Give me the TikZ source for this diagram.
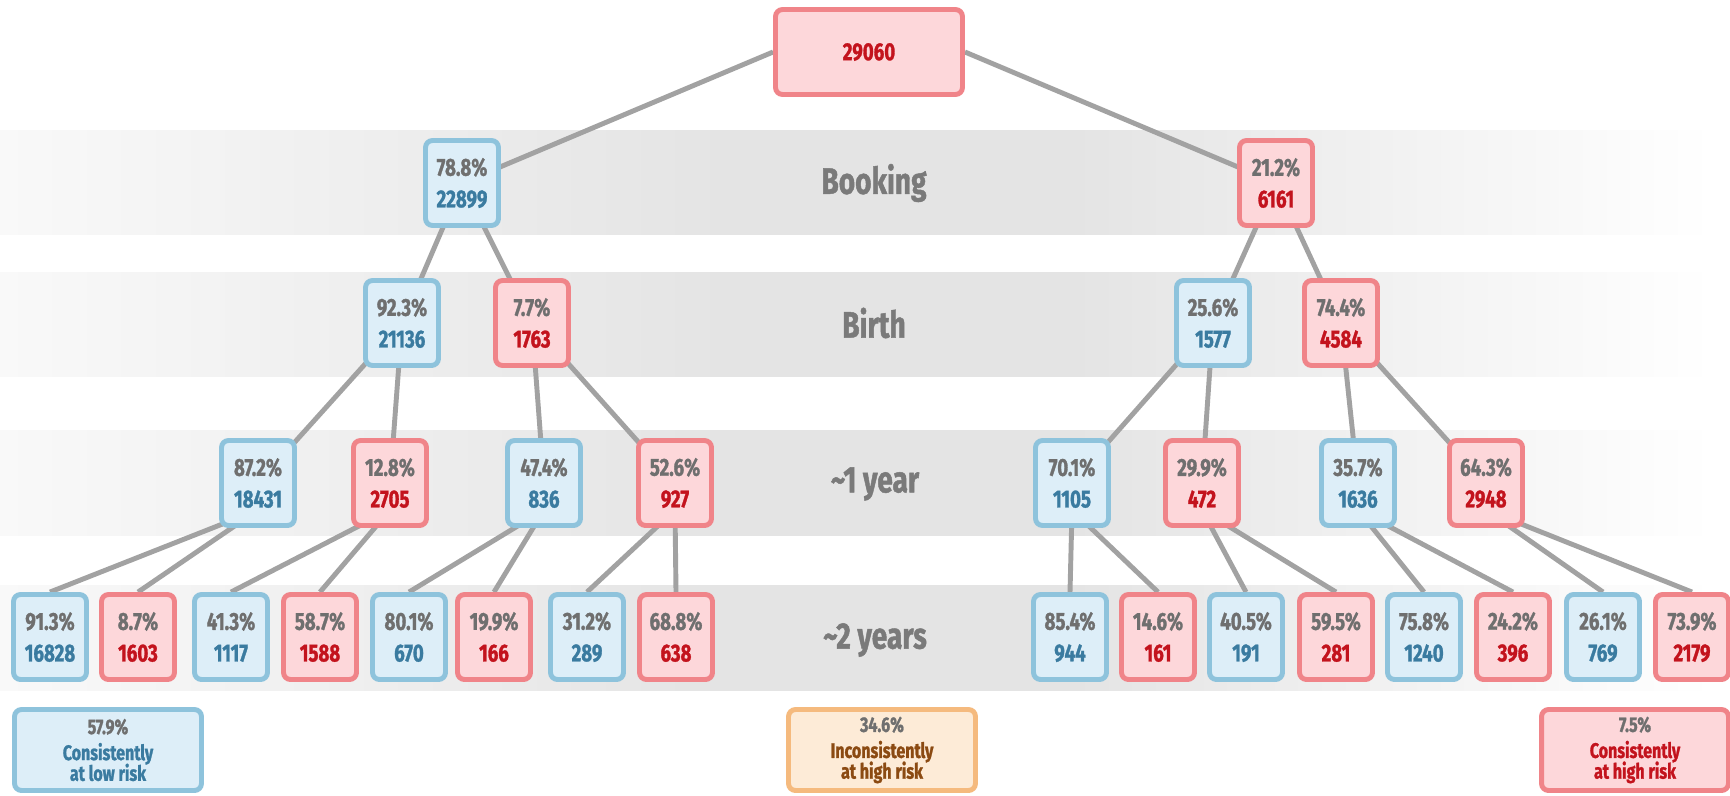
\documentclass[tikz,border=0pt]{standalone}
\usepackage{fontspec}
\setmainfont{Fira Sans}[FakeStretch=0.76, BoldFeatures={FakeBold=1.2}]

\definecolor{bluefill}{HTML}{DDEEF8}
\definecolor{blueline}{HTML}{8EC3DC}
\definecolor{bluetext}{HTML}{3A7BA0}
\definecolor{redfill}{HTML}{FDD7DA}
\definecolor{redline}{HTML}{F08489}
\definecolor{redtext}{HTML}{C3131D}
\definecolor{orangefill}{HTML}{FDEBD7}
\definecolor{orangeline}{HTML}{F5BA7E}
\definecolor{orangetext}{HTML}{8B4A12}
\definecolor{pctgray}{HTML}{6F6F6F}
\definecolor{labelgray}{HTML}{7A7A7A}
\definecolor{linkgray}{HTML}{A2A2A2}
\definecolor{bandgray}{HTML}{E4E4E4}
\definecolor{bandedge}{HTML}{F9F9F9}

% 帯のぼかし (25bp..75bp が帯の幅)
\pgfdeclarehorizontalshading{band}{100bp}{color(0bp)=(bandedge); color(25bp)=(bandedge); color(46bp)=(bandgray); color(56bp)=(bandgray); color(74.5bp)=(white); color(100bp)=(white)}

\pgfdeclarelayer{bands}
\pgfdeclarelayer{links}
\pgfsetlayers{bands,links,main}

% 行間を詰める
\newcommand{\tightskip}{\setlength{\lineskiplimit}{-20pt}}

\tikzset{
  box/.style={rounded corners=4pt, line width=2.8pt, minimum width=1.46cm, minimum height=1.7cm,
    inner sep=0pt, align=center, font=\fontsize{14}{18}\selectfont\bfseries},
  bluebox/.style={box, draw=blueline, fill=bluefill, text=bluetext},
  redbox/.style={box, draw=redline, fill=redfill, text=redtext},
  sumbox/.style={rounded corners=4pt, line width=2.8pt, minimum width=3.74cm, minimum height=1.62cm,
    inner sep=0pt, align=center, font=\fontsize{12}{11.8}\selectfont\bfseries\tightskip},
  stage/.style={text=labelgray, font=\fontsize{21}{24}\selectfont\bfseries},
  link/.style={draw=linkgray, line width=2.8pt},
}

\newcommand{\pc}[1]{\textcolor{pctgray}{#1\%}}

\begin{document}
\begin{tikzpicture}[x=0.02cm, y=-0.02cm]
    \useasboundingbox (0,0) rectangle (1730,795);

    % 背景の帯
    \begin{pgfonlayer}{bands}
    \fill[shading=band] (0,130) rectangle (1730,234);
    \fill[shading=band] (0,272) rectangle (1730,376);
    \fill[shading=band] (0,430) rectangle (1730,535);
    \fill[shading=band] (0,585) rectangle (1730,690);
    \end{pgfonlayer}

    \node[stage] (booking) at (874,183) {Booking};
    \node[stage] (birth) at (874,323) {Birth};
    \node[stage] (year1) at (875,484) {\textasciitilde1 year};
    \node[stage] (year2) at (875,640) {\textasciitilde2 years};

    % 根と一段目
    \node[redbox, minimum width=3.74cm] (root) at (869,52) {29060};
    \node[bluebox] (b1) at (462,183) {\pc{78.8}\\22899};
    \node[redbox] (b2) at (1276,183) {\pc{21.2}\\6161};

    % 二段目
    \node[bluebox] (c1) at (402,323) {\pc{92.3}\\21136};
    \node[redbox] (c2) at (532,323) {\pc{7.7}\\1763};
    \node[bluebox] (c3) at (1213,323) {\pc{25.6}\\1577};
    \node[redbox] (c4) at (1341,323) {\pc{74.4}\\4584};

    % 三段目
    \node[bluebox] (d1) at (258,483) {\pc{87.2}\\18431};
    \node[redbox] (d2) at (390,483) {\pc{12.8}\\2705};
    \node[bluebox] (d3) at (544,483) {\pc{47.4}\\836};
    \node[redbox] (d4) at (675,483) {\pc{52.6}\\927};
    \node[bluebox] (d5) at (1072,483) {\pc{70.1}\\1105};
    \node[redbox] (d6) at (1202,483) {\pc{29.9}\\472};
    \node[bluebox] (d7) at (1358,483) {\pc{35.7}\\1636};
    \node[redbox] (d8) at (1486,483) {\pc{64.3}\\2948};

    % 四段目
    \node[bluebox] (e1) at (50,637) {\pc{91.3}\\16828};
    \node[redbox] (e2) at (138,637) {\pc{8.7}\\1603};
    \node[bluebox] (e3) at (231,637) {\pc{41.3}\\1117};
    \node[redbox] (e4) at (320,637) {\pc{58.7}\\1588};
    \node[bluebox] (e5) at (409,637) {\pc{80.1}\\670};
    \node[redbox] (e6) at (494,637) {\pc{19.9}\\166};
    \node[bluebox] (e7) at (587,637) {\pc{31.2}\\289};
    \node[redbox] (e8) at (676,637) {\pc{68.8}\\638};
    \node[bluebox] (e9) at (1070,637) {\pc{85.4}\\944};
    \node[redbox] (e10) at (1158,637) {\pc{14.6}\\161};
    \node[bluebox] (e11) at (1246,637) {\pc{40.5}\\191};
    \node[redbox] (e12) at (1336,637) {\pc{59.5}\\281};
    \node[bluebox] (e13) at (1424,637) {\pc{75.8}\\1240};
    \node[redbox] (e14) at (1513,637) {\pc{24.2}\\396};
    \node[bluebox] (e15) at (1603,637) {\pc{26.1}\\769};
    \node[redbox] (e16) at (1692,637) {\pc{73.9}\\2179};

    % まとめ
    \node[sumbox, draw=blueline, fill=bluefill, text=bluetext] (low) at (108,750)
        {\pc{57.9}\\[3pt]Consistently\\at low risk};
    \node[sumbox, draw=orangeline, fill=orangefill, text=orangetext] (mixed) at (882,750)
        {\pc{34.6}\\[3pt]Inconsistently\\at high risk};
    \node[sumbox, draw=redline, fill=redfill, text=redtext] (high) at (1635,750)
        {\pc{7.5}\\[3pt]Consistently\\at high risk};

    % 枝を引く
    \begin{pgfonlayer}{links}
    \draw[link] (root.west) -- (b1.center);
    \draw[link] (root.east) -- (b2.center);
    \draw[link] (b1.center) -- (c1.center);
    \draw[link] (b1.center) -- (c2.center);
    \draw[link] (b2.center) -- (c3.center);
    \draw[link] (b2.center) -- (c4.center);
    \draw[link] (c1.center) -- (d1.center);
    \draw[link] (c1.center) -- (d2.center);
    \draw[link] (c2.center) -- (d3.center);
    \draw[link] (c2.center) -- (d4.center);
    \draw[link] (c3.center) -- (d5.center);
    \draw[link] (c3.center) -- (d6.center);
    \draw[link] (c4.center) -- (d7.center);
    \draw[link] (c4.center) -- (d8.center);
    \draw[link] ([yshift=-0.54cm]d1.center) -- (e1.north);
    \draw[link] ([yshift=-0.54cm]d1.center) -- (e2.north);
    \draw[link] ([yshift=-0.54cm]d2.center) -- (e3.north);
    \draw[link] ([yshift=-0.54cm]d2.center) -- (e4.north);
    \draw[link] ([yshift=-0.54cm]d3.center) -- (e5.north);
    \draw[link] ([yshift=-0.54cm]d3.center) -- (e6.north);
    \draw[link] ([yshift=-0.54cm]d4.center) -- (e7.north);
    \draw[link] ([yshift=-0.54cm]d4.center) -- (e8.north);
    \draw[link] ([yshift=-0.54cm]d5.center) -- (e9.north);
    \draw[link] ([yshift=-0.54cm]d5.center) -- (e10.north);
    \draw[link] ([yshift=-0.54cm]d6.center) -- (e11.north);
    \draw[link] ([yshift=-0.54cm]d6.center) -- (e12.north);
    \draw[link] ([yshift=-0.54cm]d7.center) -- (e13.north);
    \draw[link] ([yshift=-0.54cm]d7.center) -- (e14.north);
    \draw[link] ([yshift=-0.54cm]d8.center) -- (e15.north);
    \draw[link] ([yshift=-0.54cm]d8.center) -- (e16.north);
    \end{pgfonlayer}
\end{tikzpicture}
\end{document}
